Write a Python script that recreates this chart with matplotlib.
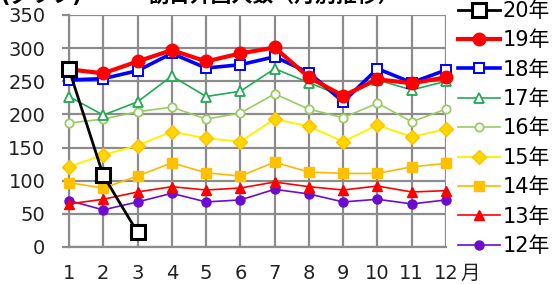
import matplotlib
matplotlib.use("Agg")
import matplotlib.pyplot as plt

plt.rcParams['font.family'] = ['DejaVu Sans', 'Noto Sans CJK JP']

months = list(range(1, 13))
month_labels = [str(m) for m in months]

y20 = [268, 108, 22]
y19 = [268, 262, 280, 297, 280, 292, 301, 256, 228, 253, 247, 256]
y18 = [252, 254, 266, 292, 270, 275, 287, 263, 219, 269, 248, 267]
y17 = [227, 199, 219, 258, 227, 235, 269, 248, 227, 252, 237, 250]
y16 = [187, 193, 204, 211, 193, 202, 231, 208, 195, 217, 189, 208]
y15 = [121, 139, 153, 174, 164, 159, 193, 182, 159, 184, 166, 178]
y14 = [97, 89, 107, 127, 112, 107, 128, 113, 111, 111, 121, 126]
y13 = [65, 72, 83, 91, 86, 89, 98, 91, 86, 92, 83, 85]
y12 = [70, 56, 68, 81, 68, 71, 87, 80, 68, 72, 65, 71]

W, H = 556, 284
fig = plt.figure(figsize=(W / 100, H / 100), dpi=100)
ax = fig.add_axes([69 / W, 1 - 247 / H, (446 - 69) / W, (247 - 15) / H])

styles = [
    ('12年', y12, dict(color='#6a0dd0', lw=1.2, marker='o', ms=6.5, mfc='#6a0dd0', mec='#6a0dd0')),
    ('13年', y13, dict(color='#ff0000', lw=1.2, marker='^', ms=6.5, mfc='#ff0000', mec='#ff0000')),
    ('14年', y14, dict(color='#ffb800', lw=1.2, marker='s', ms=6.5, mfc='#ffc000', mec='#ffc000')),
    ('15年', y15, dict(color='#fff000', lw=1.4, marker='D', ms=7, mfc='#ffd700', mec='#ffc000')),
    ('16年', y16, dict(color='#99cc66', lw=1.2, marker='o', ms=6, mfc='white', mec='#99cc66', mew=1.3)),
    ('17年', y17, dict(color='#22aa55', lw=1.2, marker='^', ms=6.5, mfc='white', mec='#22aa55', mew=1.3)),
    ('18年', y18, dict(color='#0000ff', lw=2.6, marker='s', ms=6.5, mfc='white', mec='#0000ff', mew=1.4)),
    ('19年', y19, dict(color='#ff0000', lw=3.0, marker='o', ms=9, mfc='#ff0000', mec='#ff0000')),
    ('20年', y20, dict(color='black', lw=2.0, marker='s', ms=10.5, mfc='white', mec='black', mew=2.2)),
]

handles = {}
for i, (name, ys, st) in enumerate(styles):
    ln, = ax.plot(months[:len(ys)], ys, zorder=3 + i, clip_on=False, **st)
    handles[name] = ln

ax.set_xlim(1, 12)
ax.set_ylim(0, 350)
ax.set_yticks(range(0, 351, 50))
ax.set_xticks(months)
ax.set_xticklabels(month_labels)
ax.grid(True, color='#8c8c8c', lw=1.6)
ax.set_axisbelow(True)
for s in ax.spines.values():
    s.set_color('#8c8c8c')
    s.set_linewidth(1.6)
ax.spines['top'].set_visible(False)
ax.spines['right'].set_visible(False)
ax.tick_params(axis='y', length=5, width=1.6, color='#8c8c8c', pad=12, labelsize=14, labelcolor='#222222')
ax.tick_params(axis='x', length=0, pad=12, labelsize=14, labelcolor='#222222')
fig.text(470 / W, 1 - 273 / H, '月', ha='center', va='center', fontsize=14, color='#222222')

order = ['20年', '19年', '18年', '17年', '16年', '15年', '14年', '13年', '12年']
fig.legend([handles[n] for n in order], order, loc='upper left',
           bbox_to_anchor=(458 / W, 1 - 1 / H), frameon=False, fontsize=15,
           handlelength=2.0, handletextpad=0.15, labelspacing=0.45, borderpad=0,
           borderaxespad=0)

fig.text(0 / W, 1 + 4 / H, '(グラフ)', ha='left', va='center', fontsize=15, weight='bold')
fig.text(148 / W, 1 + 4 / H, '訪日外国人数（月別推移）', ha='left', va='center', fontsize=15, weight='bold')

fig.savefig('out.png', dpi=100)
